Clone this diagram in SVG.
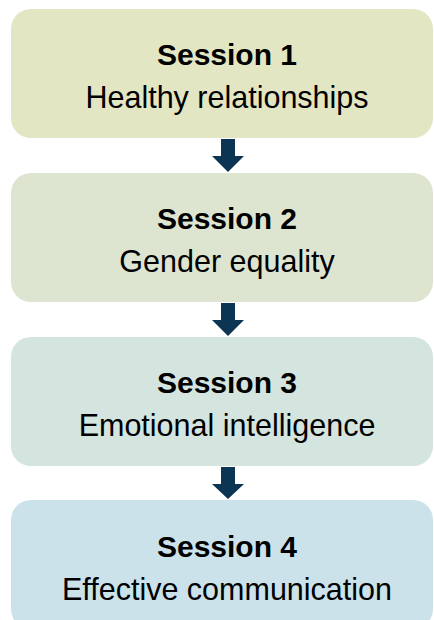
<svg xmlns="http://www.w3.org/2000/svg" width="434" height="620" viewBox="0 0 434 620">
<style>
.t{font-family:"Liberation Sans",Arial,sans-serif;font-size:30.5px;fill:#000;text-anchor:middle}
.b{font-weight:bold;font-size:30px}
.arr{fill:#0c3453}
</style>
<rect width="434" height="620" fill="#fff"/>
<g id="connectors">
<polygon class="arr" points="221,139 235,139 235,156 244,156 228,172 212,156 221,156"/>
<polygon class="arr" points="221,303 235,303 235,320 244,320 228,336 212,320 221,320"/>
<polygon class="arr" points="221,467 235,467 235,484 244,484 228,499 212,484 221,484"/>
</g>
<g id="session1">
<rect x="11" y="9" width="422" height="129" rx="20" fill="#e3e6c3"/>
<text class="t b" x="227" y="65">Session 1</text>
<text class="t" x="227" y="108">Healthy relationships</text>
</g>
<g id="session2">
<rect x="11" y="173" width="422" height="129" rx="20" fill="#dde5d1"/>
<text class="t b" x="227" y="229">Session 2</text>
<text class="t" x="227" y="272">Gender equality</text>
</g>
<g id="session3">
<rect x="11" y="337" width="422" height="129" rx="20" fill="#d4e4df"/>
<text class="t b" x="227" y="393">Session 3</text>
<text class="t" x="227" y="436">Emotional intelligence</text>
</g>
<g id="session4">
<rect x="11" y="500" width="422" height="129" rx="20" fill="#cbe2ea"/>
<text class="t b" x="227" y="557">Session 4</text>
<text class="t" x="227" y="600">Effective communication</text>
</g>
</svg>
